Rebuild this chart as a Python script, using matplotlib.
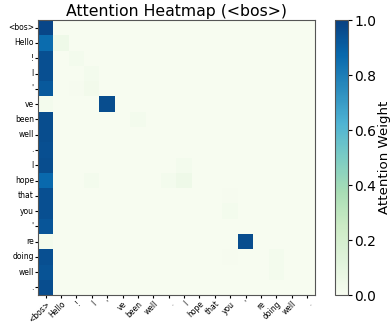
import numpy as np
import matplotlib
matplotlib.use("Agg")
import matplotlib.pyplot as plt
import seaborn as sns

tokens = ["<bos>", "Hello", "!", "I", "'", "ve", "been", "well", ".", "I",
          "hope", "that", "you", "'", "re", "doing", "well", "."]

bos_col = [0.98, 0.86, 0.95, 0.95, 0.92, 0.02, 0.96, 0.96, 0.95, 0.96,
           0.87, 0.95, 0.95, 0.93, 0.02, 0.95, 0.94, 0.96]

# off-<bos> attention entries: (row, col, value)
extra = [(1, 1, 0.05), (2, 2, 0.02), (3, 3, 0.02), (4, 2, 0.01), (4, 3, 0.03),
         (5, 4, 0.96), (6, 6, 0.02), (9, 9, 0.02), (10, 8, 0.02), (10, 9, 0.05),
         (10, 3, 0.02), (12, 12, 0.02), (11, 12, 0.01), (14, 13, 0.96),
         (15, 12, 0.01), (15, 15, 0.02), (16, 15, 0.02)]

n = len(tokens)
attn = np.zeros((n, n))
attn[:, 0] = bos_col
for r, c, v in extra:
    attn[r, c] = v

fig = plt.figure(figsize=(3.91, 3.29), dpi=100)
ax = fig.add_axes([0.097, 0.103, 0.708, 0.836])
cax = fig.add_axes([0.858, 0.103, 0.031, 0.836])
sns.heatmap(attn, ax=ax, cbar_ax=cax, cmap="GnBu", vmin=0, vmax=1,
            xticklabels=tokens, yticklabels=tokens,
            cbar_kws={"label": "Attention Weight"})
ax.set_title("Attention Heatmap (<bos>)", fontsize=11.3, pad=3)
ax.tick_params(axis="x", labelsize=5.5, rotation=45, length=2, pad=1)
ax.tick_params(axis="y", labelsize=5.5, rotation=0, length=2, pad=1)
for lab in ax.get_xticklabels():
    lab.set_ha("right")
    lab.set_rotation_mode("anchor")
for s in ax.spines.values():
    s.set_visible(True)
    s.set_color("#555555")
    s.set_linewidth(0.8)
cax.tick_params(labelsize=10, length=3, pad=2)
cax.set_ylabel("Attention Weight", fontsize=9.6, labelpad=1)
cbar = ax.collections[0].colorbar
cbar.outline.set_visible(True)
cbar.outline.set_edgecolor("#555555")
cbar.outline.set_linewidth(0.8)
fig.savefig("out.png", dpi=100)
